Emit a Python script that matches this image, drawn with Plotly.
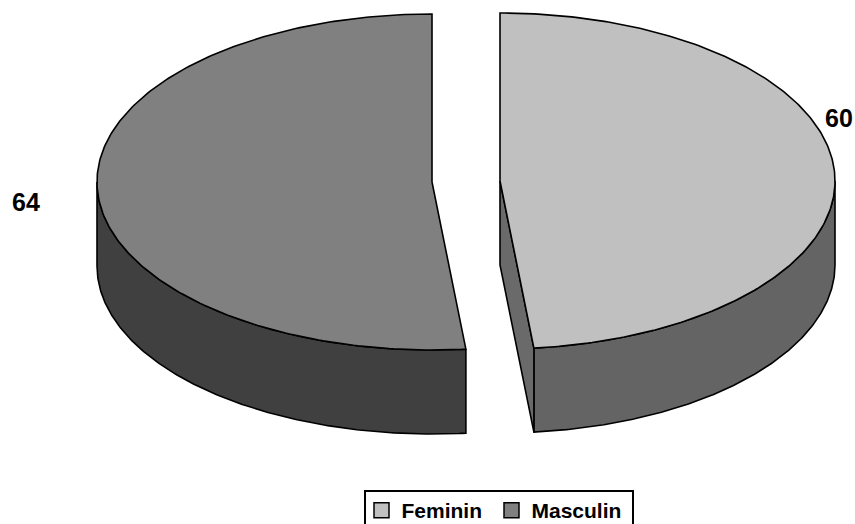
import numpy as np
import plotly.graph_objects as go

categories = ["Feminin", "Masculin"]
values = [60, 64]
top_colors = ["#c0c0c0", "#808080"]
side_colors = ["#646464", "#404040"]
cut_color = "#6a6a6a"

RX, RY, DEPTH = 335, 168, 84
CENTERS = [(500, 181), (432, 182)]
LABEL_POS = [(839, 118), (26, 202)]


def arc(center, a0, a1, dy=0):
    t = np.radians(np.linspace(a0, a1, 241))
    return center[0] + RX * np.sin(t), center[1] - RY * np.cos(t) + dy


def poly(xs, ys, color):
    return go.Scatter(x=xs, y=ys, mode="lines", fill="toself", fillcolor=color,
                      line=dict(color="#000000", width=1.6), hoverinfo="skip", showlegend=False)


split = values[0] / sum(values) * 360
spans = [(0, split), (split, 360)]
side_spans = [(90, split), (split, 270)]

fig = go.Figure()
for i in range(2):
    c = CENTERS[i]
    a0, a1 = side_spans[i]
    x1, y1 = arc(c, a0, a1)
    x2, y2 = arc(c, a1, a0, DEPTH)
    fig.add_trace(poly(np.r_[x1, x2, x1[0]], np.r_[y1, y2, y1[0]], side_colors[i]))
    if i == 0:
        ex, ey = arc(c, split, split)
        fig.add_trace(poly([c[0], ex[0], ex[0], c[0], c[0]],
                           [c[1], ey[0], ey[0] + DEPTH, c[1] + DEPTH, c[1]], cut_color))
    x, y = arc(c, *spans[i])
    fig.add_trace(poly(np.r_[c[0], x, c[0]], np.r_[c[1], y, c[1]], top_colors[i]))

for name, col in zip(categories, top_colors):
    fig.add_trace(go.Scatter(x=[None], y=[None], mode="markers", name=name,
                             marker=dict(symbol="square", size=15, color=col,
                                         line=dict(color="#000000", width=1.5))))

for v, (lx, ly) in zip(values, LABEL_POS):
    fig.add_annotation(x=lx, y=ly, text=f"<b>{v}</b>", showarrow=False,
                       font=dict(family="Liberation Sans", size=25, color="#000000"))

fig.add_shape(type="rect", x0=365, x1=633, y0=491, y1=530, line=dict(color="#000000", width=2),
              fillcolor="#ffffff", layer="below")

fig.update_layout(
    width=855, height=524, margin=dict(l=0, r=0, t=0, b=0, autoexpand=False),
    paper_bgcolor="#ffffff", plot_bgcolor="#ffffff",
    xaxis=dict(range=[0, 855], visible=False, fixedrange=True),
    yaxis=dict(range=[524, 0], visible=False, fixedrange=True),
    legend=dict(orientation="h", x=361.5 / 855, xanchor="left", y=1 - 490 / 524, yanchor="top",
                entrywidth=85, entrywidthmode="pixels",
                borderwidth=0, bgcolor="rgba(0,0,0,0)",
                font=dict(family="Liberation Sans", size=21, color="#000000", weight="bold")),
)
fig.write_html("out.html", post_script="document.body.style.margin='0';",
               config={"displayModeBar": False})
